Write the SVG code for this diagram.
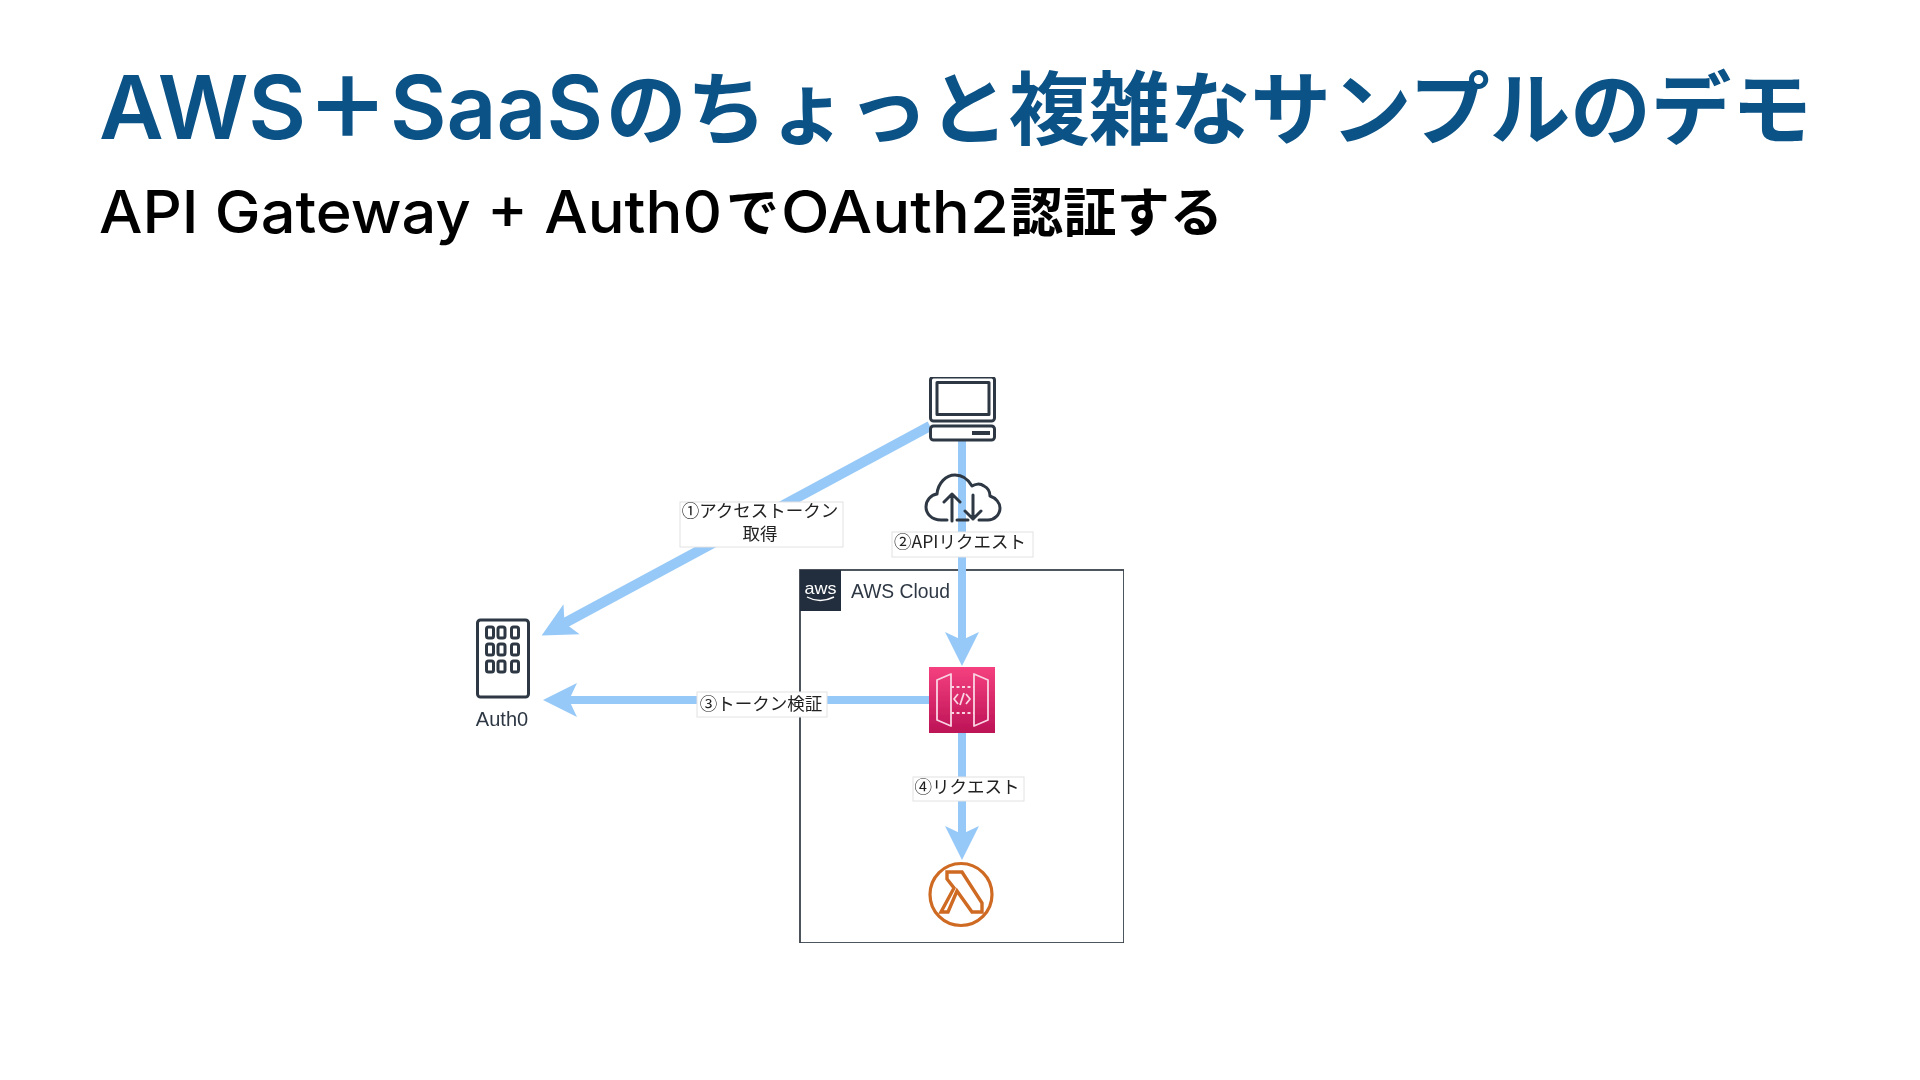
<svg xmlns="http://www.w3.org/2000/svg" width="1920" height="1080" viewBox="0 0 1920 1080">
<style>
text{font-family:"Noto Sans CJK JP","Noto Sans",sans-serif}
.tj{font-size:80px;font-weight:700;fill:#0B5286}
.tp{font-size:84px;font-weight:900;fill:#0B5286;text-anchor:middle}
.tl{font-family:Inter,"Liberation Sans",sans-serif;font-size:88px;font-weight:600;fill:#0B5286}
.sj{font-size:53px;font-weight:700;fill:#000}
.sl{font-family:Inter,"Liberation Sans",sans-serif;font-size:59px;font-weight:500;fill:#000}
.lbl{font-size:17.5px;fill:#222;text-anchor:middle}
.lbg{fill:#fff;stroke:#e2e2e2;stroke-width:1}
.ln{fill:none;stroke:#96C9F7;stroke-width:8;marker-end:url(#head)}
.ic{fill:none;stroke:#2E3844;stroke-width:3;stroke-linejoin:round;stroke-linecap:round}
.gw{fill:none;stroke:#FAD3E2;stroke-width:1.8;stroke-linejoin:round}
.lat{font-family:"Liberation Sans",Arial,sans-serif}
</style>
<defs>
<marker id="head" markerUnits="userSpaceOnUse" markerWidth="36" markerHeight="36" viewBox="0 0 36 36" refX="12" refY="18" orient="auto">
<path d="M0,1 L34,18 L0,35 L8,18 Z" fill="#96C9F7"/>
</marker>
<linearGradient id="gwg" x1="0" y1="0" x2="0" y2="1"><stop offset="0" stop-color="#F5407F"/><stop offset="1" stop-color="#BC1356"/></linearGradient>
<filter id="soft" x="0" y="0" width="1" height="1"><feGaussianBlur stdDeviation="0.5"/></filter>
</defs>
<rect width="1920" height="1080" fill="#fff"/>
<g id="title">
<text class="tl" x="99" y="139" textLength="207" lengthAdjust="spacingAndGlyphs">AWS</text>
<text class="tp" x="347.500" y="138">&#xFF0B;</text>
<text class="tl" x="390" y="139" textLength="213" lengthAdjust="spacingAndGlyphs">SaaS</text>
<text class="tj" x="606" y="138" textLength="1206" lengthAdjust="spacingAndGlyphs">のちょっと複雑なサンプルのデモ</text>
</g>
<g id="subtitle">
<text class="sl" x="99" y="233" textLength="623" lengthAdjust="spacingAndGlyphs">API Gateway + Auth0</text>
<text class="sj" x="726" y="232">で</text>
<text class="sl" x="781" y="233" textLength="228" lengthAdjust="spacingAndGlyphs">OAuth2</text>
<text class="sj" x="1010" y="232" textLength="213" lengthAdjust="spacingAndGlyphs">認証する</text>
</g>
<g filter="url(#soft)">
<g id="aws-cloud">
<rect x="800" y="570" width="324" height="373" fill="#fff" stroke="#3a424c" stroke-width="1.8"/>
<rect x="800" y="570" width="41" height="41" fill="#232F3E"/>
<text class="lat" x="820.500" y="594" font-size="17" fill="#fff" text-anchor="middle" textLength="32" lengthAdjust="spacingAndGlyphs">aws</text>
<path d="M807 597 Q820 604 834 597" fill="none" stroke="#fff" stroke-width="1.4"/>
<text class="lat" x="851" y="598" font-size="20" fill="#2E3844" textLength="99" lengthAdjust="spacingAndGlyphs">AWS Cloud</text>
</g>
<g id="connectors">
<line class="ln" x1="930" y1="426" x2="561" y2="625" style="stroke-width:10"/>
<line class="ln" x1="962" y1="440" x2="962" y2="644"/>
<line class="ln" x1="929" y1="700" x2="565" y2="700"/>
<line class="ln" x1="962" y1="733" x2="962" y2="838"/>
</g>
<g id="client">
<rect class="ic" x="930.500" y="377" width="64" height="44" rx="3"/>
<rect class="ic" x="937" y="382.500" width="52" height="32"/>
<rect class="ic" x="930.500" y="426" width="64" height="14" rx="3" style="fill:#fff"/>
<rect x="972" y="431" width="18" height="4" fill="#2E3844"/>
</g>
<g id="internet">
<path class="ic" d="M947 520 H941 C931 520 926 513 926 507 C926 500 931 495 937 494 C938 483 946 475 955 475 C962 475 968 479 972 486 C975 484 980 483 984 486 C988 488 990 492 990 496 C996 498 1000 503 1000 508 C1000 515 994 520 988 520 H979 M957 520 H968"/>
<path class="ic" d="M952 521 V494 M944 502 L952 494 L960 502 M973 495 V519 M965 511 L973 519 L981 511"/>
</g>
<g id="auth0">
<rect class="ic" x="477.500" y="620" width="51" height="77" rx="3"/>
<g fill="none" stroke="#2E3844" stroke-width="3">
<rect x="486.500" y="627" width="7" height="11" rx="2"/><rect x="498" y="627" width="7" height="11" rx="2"/><rect x="511.500" y="627" width="7" height="11" rx="2"/>
<rect x="486.500" y="644" width="7" height="11" rx="2"/><rect x="498" y="644" width="7" height="11" rx="2"/><rect x="511.500" y="644" width="7" height="11" rx="2"/>
<rect x="486.500" y="661" width="7" height="11" rx="2"/><rect x="498" y="661" width="7" height="11" rx="2"/><rect x="511.500" y="661" width="7" height="11" rx="2"/>
</g>
<text class="lat" x="502" y="726" font-size="20" fill="#2E3844" text-anchor="middle">Auth0</text>
</g>
<g id="api-gateway">
<rect x="929" y="667" width="66" height="66" fill="url(#gwg)"/>
<path class="gw" d="M937 680 L951 674 V726 L937 720 Z M974 674 L988 680 V720 L974 726 Z"/>
<path class="gw" stroke-dasharray="3 2.500" d="M951 687 H974 M951 713 H974"/>
<path class="gw" d="M958 694 L954 699 L958 704 M966 694 L970 699 L966 704 M964 693 L960 705"/>
</g>
<g id="lambda">
<circle cx="961" cy="894.500" r="31" fill="none" stroke="#CF6A24" stroke-width="3.200"/>
<path fill="none" stroke="#CF6A24" stroke-width="3.400" stroke-linejoin="miter" d="M947 872 H962 L982 903 V912 H972 L957 891 L948 912 H941 L954 888 L947 879 Z"/>
</g>
<g id="labels">
<rect class="lbg" x="680" y="502" width="163" height="45"/>
<text class="lbl"><tspan x="760" y="517">①アクセストークン</tspan><tspan x="760" y="540">取得</tspan></text>
<rect class="lbg" x="892" y="532" width="141" height="25"/>
<text class="lbl" x="960" y="548">②APIリクエスト</text>
<rect class="lbg" x="697" y="692" width="130" height="25"/>
<text class="lbl" x="761" y="710">③トークン検証</text>
<rect class="lbg" x="913" y="777" width="111" height="24"/>
<text class="lbl" x="967" y="793">④リクエスト</text>
</g>
</g>
</svg>
